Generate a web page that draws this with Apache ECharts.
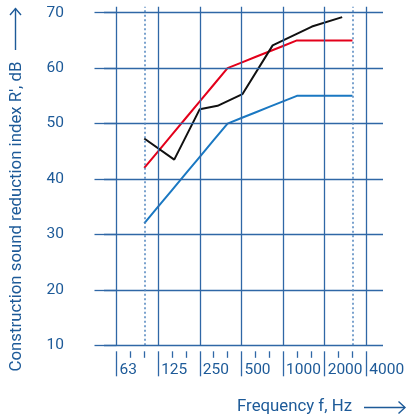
<!DOCTYPE html>
<html>
<head>
<meta charset="utf-8">
<script src="https://cdn.jsdelivr.net/npm/echarts@6/dist/echarts.min.js"></script>
<style>html,body{margin:0;padding:0;background:#fff}#c{width:408px;height:419px}</style>
</head>
<body>
<div id="c"></div>
<script>
// x positions are third-octave band indices: 63 Hz = 0, 125 Hz = 3, ... 4000 Hz = 18
var octaveLabels = ['63', '125', '250', '500', '1000', '2000', '4000'];
var octavePositions = [0, 3, 6, 9, 12, 15, 18];
var thirdPositions = [1, 2, 4, 5, 7, 8, 10, 11, 13, 14, 16, 17];
var dottedPositions = [2, 17];
var yTicks = [10, 20, 30, 40, 50, 60, 70];

var refX = [2, 3, 4, 5, 6, 7, 8, 9, 10, 11, 12, 13, 14, 15, 16, 17];
var redValues = [42, 45, 48, 51, 54, 57, 60, 61, 62, 63, 64, 65, 65, 65, 65, 65];
var blueValues = [32, 35, 38, 41, 44, 47, 50, 51, 52, 53, 54, 55, 55, 55, 55, 55];
var blackX = [2, 4.16, 6, 7.28, 9.07, 11.25, 14.08, 16.26];
var blackValues = [47.3, 43.5, 52.6, 53.2, 55.3, 64.1, 67.5, 69.2];

var TXT = '#1d5a98', GRID = '#2f67a6', FONT = 'Roboto';

function pairs(xs, ys) { return xs.map(function (x, i) { return [x, ys[i]]; }); }

var hLines = yTicks.map(function (v) { return { yAxis: v }; });
var vSolid = octavePositions.map(function (v) { return { xAxis: v }; });
var vDotted = dottedPositions.map(function (v) { return { xAxis: v }; });

var chart = echarts.init(document.getElementById('c'), null, { renderer: 'canvas' });
chart.setOption({
  animation: false,
  grid: { left: 104, top: 6.7, width: 279, height: 338.6 },
  xAxis: [
    {
      type: 'value', min: -0.9, max: 19.2, position: 'bottom', offset: 6,
      axisLine: { show: false }, splitLine: { show: false },
      axisTick: { show: true, customValues: thirdPositions, length: 6.5, lineStyle: { color: GRID, width: 1.3 } },
      axisLabel: { show: false }
    },
    {
      type: 'value', min: -0.9, max: 19.2, position: 'bottom', offset: 6,
      axisLine: { show: false }, splitLine: { show: false },
      axisTick: { show: true, customValues: octavePositions, length: 25, lineStyle: { color: GRID, width: 1.3 } },
      axisLabel: {
        show: true, customValues: octavePositions, align: 'left', margin: 11,
        padding: [0, 0, 0, 3], color: TXT, fontFamily: FONT, fontSize: 15.5,
        formatter: function (v) { var i = octavePositions.indexOf(v); return i >= 0 ? octaveLabels[i] : ''; }
      }
    }
  ],
  yAxis: {
    type: 'value', min: 10, max: 71.08, offset: 9,
    axisLine: { show: false }, splitLine: { show: false },
    axisTick: { show: true, customValues: yTicks, length: 22, lineStyle: { color: GRID, width: 1.3 } },
    axisLabel: { show: true, customValues: yTicks, margin: 31, color: TXT, fontFamily: FONT, fontSize: 15.5 }
  },
  graphic: [
    { type: 'text', x: 17, y: 216.5, rotation: Math.PI / 2,
      style: { text: "Construction sound reduction index R', dB", fill: TXT, font: '16.8px Roboto', align: 'center', verticalAlign: 'middle' } },
    { type: 'line', shape: { x1: 15.5, y1: 50, x2: 15.5, y2: 8.5 }, style: { stroke: TXT, lineWidth: 1.4 } },
    { type: 'polyline', shape: { points: [[10, 15], [15.5, 8.5], [21, 15]] }, style: { stroke: TXT, lineWidth: 1.4, fill: null } },
    { type: 'text', x: 294.5, y: 407, style: { text: 'Frequency f, Hz', fill: TXT, font: '16.8px Roboto', align: 'center', verticalAlign: 'middle' } },
    { type: 'line', shape: { x1: 364, y1: 407.5, x2: 405, y2: 407.5 }, style: { stroke: TXT, lineWidth: 1.4 } },
    { type: 'polyline', shape: { points: [[398.5, 401.5], [405, 407.5], [398.5, 413.5]] }, style: { stroke: TXT, lineWidth: 1.4, fill: null } }
  ],
  series: [
    { type: 'line', xAxisIndex: 1, data: [], silent: true,
      markLine: { silent: true, symbol: 'none', label: { show: false }, animation: false,
        lineStyle: { color: GRID, width: 1.3, type: 'solid' }, data: hLines.concat(vSolid) } },
    { type: 'line', xAxisIndex: 1, data: [], silent: true,
      markLine: { silent: true, symbol: 'none', label: { show: false }, animation: false,
        lineStyle: { color: '#4f84bd', width: 1.5, type: [2, 2.5] }, data: vDotted } },
    { type: 'line', xAxisIndex: 1, data: pairs(refX, blueValues), showSymbol: false,
      lineStyle: { color: '#1a78c2', width: 2 } },
    { type: 'line', xAxisIndex: 1, data: pairs(refX, redValues), showSymbol: false,
      lineStyle: { color: '#e3001b', width: 2 } },
    { type: 'line', xAxisIndex: 1, data: pairs(blackX, blackValues), showSymbol: false,
      lineStyle: { color: '#111111', width: 2 } }
  ]
});
</script>
</body>
</html>
